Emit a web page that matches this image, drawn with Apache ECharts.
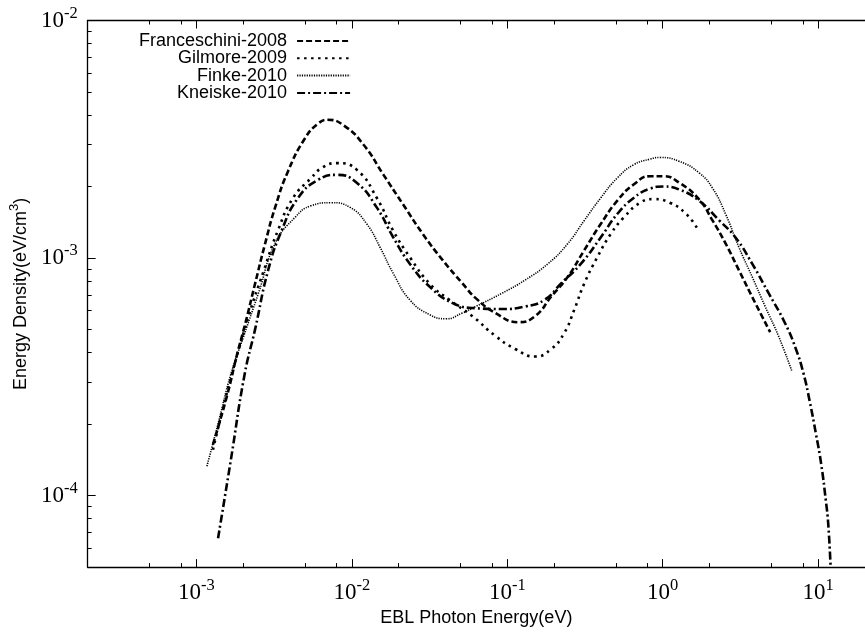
<!DOCTYPE html>
<html><head><meta charset="utf-8">
<script src="https://cdn.jsdelivr.net/npm/echarts@6/dist/echarts.min.js"></script>
<style>html,body{margin:0;padding:0;background:#fff}#c{width:865px;height:632px}</style>
</head><body><div id="c"></div>
<script>
// Tick values
const xMajorTicks = [1e-3, 1e-2, 1e-1, 1, 10];
const xMinorTicks = [5e-4, 8e-4, 2e-3, 5e-3, 8e-3, 2e-2, 5e-2, 8e-2, 0.2, 0.5, 0.8, 2, 5, 8];
const yMajorTicks = [1e-4, 1e-3, 1e-2];
const yMinorTicks = [6e-5, 7e-5, 8e-5, 9e-5,
  2e-4, 3e-4, 4e-4, 5e-4, 6e-4, 7e-4, 8e-4, 9e-4,
  2e-3, 3e-3, 4e-3, 5e-3, 6e-3, 7e-3, 8e-3, 9e-3];

// Series (photon energy in eV, energy density in eV/cm^3)
const seriesNames = ['Franceschini-2008', 'Gilmore-2009', 'Finke-2010', 'Kneiske-2010'];

const franceschiniE = [1.28e-3, 1.58e-3, 1.82e-3, 2.07e-3, 2.39e-3, 2.77e-3, 3.21e-3, 3.89e-3, 4.98e-3, 6.04e-3, 6.98e-3, 8.91e-3, 1.195e-2, 1.60e-2, 2.14e-2, 2.87e-2, 3.85e-2, 5.15e-2, 6.27e-2, 8.39e-2, 0.118, 0.151, 0.192, 0.245, 0.313, 0.399, 0.509, 0.650, 0.830, 1.01, 1.285, 1.72, 2.09, 2.54, 3.09, 3.94, 4.91];
const franceschiniD = [1.64e-4, 2.65e-4, 3.88e-4, 5.33e-4, 7.82e-4, 1.15e-3, 1.63e-3, 2.32e-3, 3.18e-3, 3.67e-3, 3.82e-3, 3.61e-3, 2.99e-3, 2.24e-3, 1.68e-3, 1.26e-3, 9.78e-4, 7.82e-4, 6.78e-4, 5.87e-4, 5.37e-4, 5.69e-4, 6.89e-4, 8.34e-4, 1.08e-3, 1.39e-3, 1.74e-3, 2.04e-3, 2.21e-3, 2.21e-3, 2.07e-3, 1.76e-3, 1.44e-3, 1.15e-3, 8.89e-4, 6.46e-4, 4.88e-4];

const gilmoreE = [1.28e-3, 1.62e-3, 2.17e-3, 2.70e-3, 3.37e-3, 4.19e-3, 5.47e-3, 6.50e-3, 8.02e-3, 1.08e-2, 1.45e-2, 1.85e-2, 2.36e-2, 3.16e-2, 4.24e-2, 5.97e-2, 8.39e-2, 0.1125, 0.151, 0.192, 0.233, 0.270, 0.313, 0.380, 0.462, 0.561, 0.716, 0.871, 1.11, 1.42, 1.68];
const gilmoreD = [1.56e-4, 2.91e-4, 5.69e-4, 8.75e-4, 1.32e-3, 1.79e-3, 2.17e-3, 2.41e-3, 2.51e-3, 2.35e-3, 1.79e-3, 1.30e-3, 1.01e-3, 7.82e-4, 6.67e-4, 5.69e-4, 4.70e-4, 4.14e-4, 3.85e-4, 4.14e-4, 4.85e-4, 6.07e-4, 7.82e-4, 1.01e-3, 1.26e-3, 1.48e-3, 1.71e-3, 1.77e-3, 1.71e-3, 1.53e-3, 1.32e-3];

const finkeE = [1.17e-3, 1.40e-3, 1.66e-3, 2.02e-3, 2.51e-3, 3.21e-3, 4.30e-3, 5.47e-3, 7.33e-3, 9.82e-3, 1.25e-2, 1.52e-2, 1.85e-2, 2.36e-2, 3.16e-2, 4.04e-2, 5.15e-2, 6.27e-2, 9.25e-2, 0.130, 0.183, 0.245, 0.313, 0.399, 0.509, 0.650, 0.830, 0.959, 1.285, 1.72, 2.09, 2.54, 3.09, 3.76, 4.56, 5.55, 6.75];
const finkeD = [1.33e-4, 2.08e-4, 3.21e-4, 4.70e-4, 7.11e-4, 1.15e-3, 1.48e-3, 1.66e-3, 1.71e-3, 1.63e-3, 1.39e-3, 1.11e-3, 8.61e-4, 6.67e-4, 5.78e-4, 5.55e-4, 5.87e-4, 6.25e-4, 7.11e-4, 8.07e-4, 9.47e-4, 1.15e-3, 1.44e-3, 1.79e-3, 2.17e-3, 2.47e-3, 2.61e-3, 2.65e-3, 2.55e-3, 2.28e-3, 1.97e-3, 1.53e-3, 1.11e-3, 8.34e-4, 6.25e-4, 4.70e-4, 3.36e-4];

const kneiskeE = [1.38e-3, 1.67e-3, 2.04e-3, 2.39e-3, 2.90e-3, 3.53e-3, 4.51e-3, 6.04e-3, 8.09e-3, 1.08e-2, 1.45e-2, 1.85e-2, 2.36e-2, 3.16e-2, 4.46e-2, 6.27e-2, 9.25e-2, 0.130, 0.174, 0.222, 0.298, 0.399, 0.509, 0.650, 0.830, 1.01, 1.285, 1.72, 2.31, 2.94, 3.76, 4.80, 6.11, 7.14, 8.04, 8.81, 9.70, 10.45, 11.2, 11.6, 12.0];
const kneiskeD = [6.61e-5, 1.42e-4, 3.21e-4, 5.02e-4, 8.91e-4, 1.30e-3, 1.79e-3, 2.13e-3, 2.24e-3, 2.07e-3, 1.63e-3, 1.22e-3, 9.47e-4, 7.59e-4, 6.46e-4, 6.15e-4, 6.10e-4, 6.25e-4, 6.67e-4, 7.82e-4, 9.47e-4, 1.22e-3, 1.53e-3, 1.79e-3, 1.96e-3, 2.00e-3, 1.94e-3, 1.74e-3, 1.44e-3, 1.22e-3, 9.47e-4, 7.11e-4, 5.33e-4, 4.19e-4, 3.27e-4, 2.50e-4, 1.80e-4, 1.36e-4, 9.51e-5, 7.62e-5, 5.11e-5];

const X_MIN = 2e-4, X_MAX = 20, Y_MIN = 5e-5, Y_MAX = 1e-2;

const pairs = (xs, ys) => xs.map((x, i) => [x, ys[i]]);
const SERIF = 'Liberation Serif';
const SANS = 'Liberation Sans';

const powLabel = v => {
  const e = Math.round(Math.log10(v));
  return '{b|10}{s|' + (e < 0 ? '-' + (-e) : e) + '}';
};
const powRich = {
  b: { fontFamily: SERIF, fontSize: 23, color: '#000', padding: [4, 0, 4, 0], verticalAlign: 'bottom' },
  s: { fontFamily: SERIF, fontSize: 16.5, color: '#000', verticalAlign: 'top' }
};

const axisLine = { show: true, lineStyle: { color: '#000', width: 1.3 } };

function xAx(pos, major, showLabel) {
  return {
    type: 'log', position: pos, min: X_MIN, max: X_MAX, logBase: 10,
    axisLine: major ? axisLine : { show: false },
    axisTick: { show: true, inside: true, length: major ? 8 : 4, customValues: major ? xMajorTicks : xMinorTicks, lineStyle: { color: '#000', width: 1 } },
    axisLabel: showLabel ? { show: true, customValues: xMajorTicks, formatter: powLabel, rich: powRich, margin: 10 } : { show: false },
    splitLine: { show: false }, minorTick: { show: false }
  };
}
function yAx(pos, major, showLabel) {
  return {
    type: 'log', position: pos, min: Y_MIN, max: Y_MAX, logBase: 10,
    axisLine: major ? axisLine : { show: false },
    axisTick: { show: true, inside: true, length: major ? 8 : 4, customValues: major ? yMajorTicks : yMinorTicks, lineStyle: { color: '#000', width: 1 } },
    axisLabel: showLabel ? { show: true, customValues: yMajorTicks, formatter: powLabel, rich: powRich, margin: 10 } : { show: false },
    splitLine: { show: false }, minorTick: { show: false }
  };
}

const xAxes = [xAx('bottom', true, true), xAx('bottom', false, false), xAx('top', true, false), xAx('top', false, false)];
xAxes[0].name = 'EBL Photon Energy(eV)';
xAxes[0].nameLocation = 'middle';
xAxes[0].nameGap = 40;
xAxes[0].nameTextStyle = { fontFamily: SANS, fontSize: 18, color: '#000' };

const yAxes = [yAx('left', true, true), yAx('left', false, false)];
yAxes[0].name = '{n|Energy Density(eV/cm}{u|3}{n|)}';
yAxes[0].nameLocation = 'middle';
yAxes[0].nameGap = 55;
yAxes[0].nameTextStyle = { rich: {
  n: { fontFamily: SANS, fontSize: 18, color: '#000', verticalAlign: 'bottom', padding: [4, 0, 0, 0] },
  u: { fontFamily: SANS, fontSize: 13, color: '#000', verticalAlign: 'top' }
} };

const styles = [
  { type: [6, 3], width: 2.6 },
  { type: [2.5, 4.5], width: 2.6 },
  { type: [1.2, 1.2], width: 1.6 },
  { type: [8, 3, 2, 3], width: 2.6 }
];
const dataSets = [pairs(franceschiniE, franceschiniD), pairs(gilmoreE, gilmoreD), pairs(finkeE, finkeD), pairs(kneiskeE, kneiskeD)];

const chart = echarts.init(document.getElementById('c'), null, { renderer: 'canvas' });
chart.setOption({
  animation: false,
  backgroundColor: '#fff',
  grid: { left: 87, right: -9, top: 20.5, bottom: 58.5, containLabel: false },
  xAxis: xAxes,
  yAxis: yAxes,
  legend: {
    orient: 'vertical', left: 134, top: 27, align: 'right',
    itemWidth: 53, itemHeight: 14, itemGap: -0.7,
    data: seriesNames,
    itemStyle: { opacity: 0 },
    formatter: n => '{t|' + n + '}',
    textStyle: { fontSize: 18, fontFamily: SANS, color: '#000',
      rich: { t: { width: 150, align: 'right', fontFamily: SANS, fontSize: 18, color: '#000', padding: [0, 5, 0, 0] } } }
  },
  series: seriesNames.map((n, i) => ({
    name: n, type: 'line', data: dataSets[i], xAxisIndex: 0, yAxisIndex: 0,
    showSymbol: false, symbol: 'none', smooth: 0.5,
    lineStyle: { color: '#000', width: styles[i].width, type: styles[i].type, cap: 'butt' },
    itemStyle: { color: '#000' }
  }))
});
</script></body></html>
